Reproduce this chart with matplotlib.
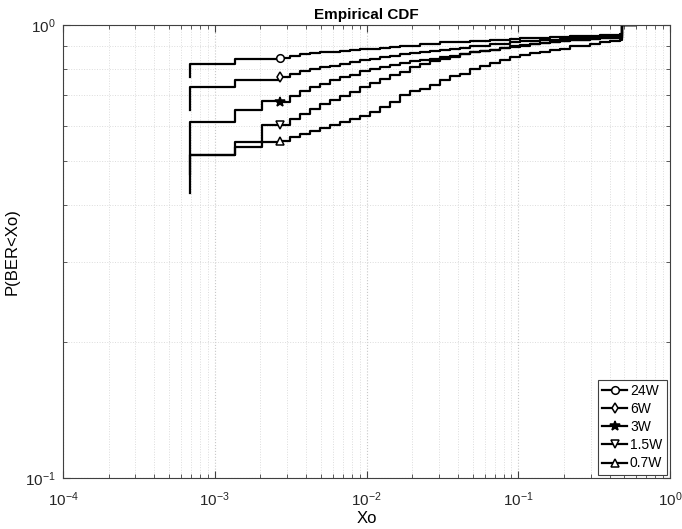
import numpy as np
import matplotlib
matplotlib.use('Agg')
import matplotlib.pyplot as plt

plt.rcParams['font.family'] = ['Liberation Sans', 'DejaVu Sans']
plt.rcParams['mathtext.default'] = 'regular'

labels = ['24W', '6W', '3W', '1.5W', '0.7W']
markers = ['o', 'd', '*', 'v', '^']

# shared x positions of the stairs
x_pts = [6.9e-4, 6.9e-4, 1.36e-3, 2.05e-3,
         2.69e-3, 3.13e-3, 3.65e-3, 4.24e-3, 4.94e-3, 5.75e-3, 6.69e-3, 7.78e-3, 9.06e-3,
         0.01054, 0.01227, 0.01428, 0.01663, 0.01935, 0.02252, 0.02621, 0.0305, 0.0355,
         0.04131, 0.04809, 0.05596, 0.06513, 0.0758, 0.08822, 0.1027, 0.1195, 0.1391,
         0.1619, 0.1884, 0.2193, 0.2552, 0.297, 0.3457, 0.4023, 0.4683, 0.483, 0.59]

F_24 = [0.769, 0.820, 0.840, 0.840,
        0.847, 0.856, 0.863, 0.867, 0.872, 0.874, 0.878, 0.881, 0.885,
        0.887, 0.890, 0.894, 0.897, 0.901, 0.906, 0.910, 0.915, 0.917,
        0.919, 0.922, 0.924, 0.927, 0.929, 0.931, 0.934, 0.936, 0.938,
        0.941, 0.943, 0.946, 0.947, 0.948, 0.950, 0.950, 0.953, 1.0, 1.0]

F_6 = [0.649, 0.731, 0.756, 0.756,
       0.769, 0.780, 0.792, 0.798, 0.808, 0.814, 0.822, 0.829, 0.835,
       0.843, 0.850, 0.856, 0.863, 0.867, 0.872, 0.876, 0.883, 0.887,
       0.892, 0.897, 0.901, 0.906, 0.910, 0.915, 0.920, 0.922, 0.927,
       0.929, 0.931, 0.934, 0.936, 0.938, 0.941, 0.943, 0.946, 1.0, 1.0]

F_3 = [0.520, 0.612, 0.649, 0.679,
       0.677, 0.697, 0.715, 0.730, 0.741, 0.757, 0.768, 0.777, 0.790,
       0.798, 0.808, 0.816, 0.825, 0.833, 0.837, 0.843, 0.850, 0.855,
       0.863, 0.870, 0.876, 0.883, 0.890, 0.894, 0.901, 0.908, 0.913,
       0.917, 0.922, 0.927, 0.929, 0.931, 0.934, 0.936, 0.938, 1.0, 1.0]

F_15 = [0.470, 0.516, 0.538, 0.602,
        0.602, 0.620, 0.637, 0.653, 0.668, 0.684, 0.697, 0.711, 0.730,
        0.745, 0.760, 0.774, 0.788, 0.806, 0.822, 0.833, 0.843, 0.851,
        0.861, 0.870, 0.876, 0.883, 0.890, 0.897, 0.903, 0.908, 0.913,
        0.917, 0.922, 0.927, 0.929, 0.931, 0.934, 0.936, 0.938, 1.0, 1.0]

F_07 = [0.426, 0.516, 0.553, 0.553,
        0.554, 0.566, 0.576, 0.584, 0.592, 0.602, 0.612, 0.620, 0.630,
        0.643, 0.660, 0.676, 0.701, 0.715, 0.724, 0.738, 0.757, 0.772,
        0.780, 0.800, 0.814, 0.826, 0.837, 0.850, 0.859, 0.867, 0.873,
        0.881, 0.887, 0.897, 0.901, 0.908, 0.915, 0.920, 0.927, 1.0, 1.0]

marker_idx = 4  # marker drawn at x = 2.69e-3

series = [F_24, F_6, F_3, F_15, F_07]

fig = plt.figure(figsize=(6.82, 5.29), dpi=100)
ax = fig.add_axes([0.0924, 0.0964, 0.890, 0.8563])

for Fs, lab, mk in zip(series, labels, markers):
    star = mk == '*'
    ax.plot(x_pts, Fs, color='k', linewidth=1.6, drawstyle='steps-post',
            marker=mk, markevery=[marker_idx], markersize=7 if star else 5.5,
            markerfacecolor='k' if star else 'white', markeredgecolor='k',
            markeredgewidth=1.1, label=lab)

ax.set_xscale('log')
ax.set_yscale('log')
ax.set_xlim(1e-4, 1)
ax.set_ylim(0.1, 1)

ax.grid(True, which='major', linestyle=':', color='#c8c8c8', linewidth=0.8)
ax.grid(True, which='minor', linestyle=':', color='#dcdcdc', linewidth=0.7)
ax.tick_params(which='both', direction='in', top=True, right=True,
               colors='#404040', labelcolor='#262626')
ax.tick_params(which='major', length=5, labelsize=11)
ax.tick_params(which='minor', length=3)
ax.tick_params(axis='x', which='major', pad=9)
ax.tick_params(axis='y', which='major', pad=5)
ax.yaxis.set_minor_formatter(matplotlib.ticker.NullFormatter())
for s in ax.spines.values():
    s.set_color('#404040')
    s.set_linewidth(0.8)

ax.set_title('Empirical CDF', fontsize=11, fontweight='bold', pad=4)
ax.set_xlabel('Xo', fontsize=12)
ax.set_ylabel('P(BER<Xo)', fontsize=12)
ax.xaxis.set_label_coords(0.5, -0.073)
ax.yaxis.set_label_coords(-0.072, 0.5)

leg = ax.legend(loc='lower right', fontsize=10, handlelength=1.8, handletextpad=0.2,
                labelspacing=0.3, borderpad=0.3, fancybox=False, framealpha=1,
                borderaxespad=0.25)
leg.get_frame().set_edgecolor('#404040')
leg.get_frame().set_linewidth(0.8)

plt.savefig('out.png', dpi=100)
